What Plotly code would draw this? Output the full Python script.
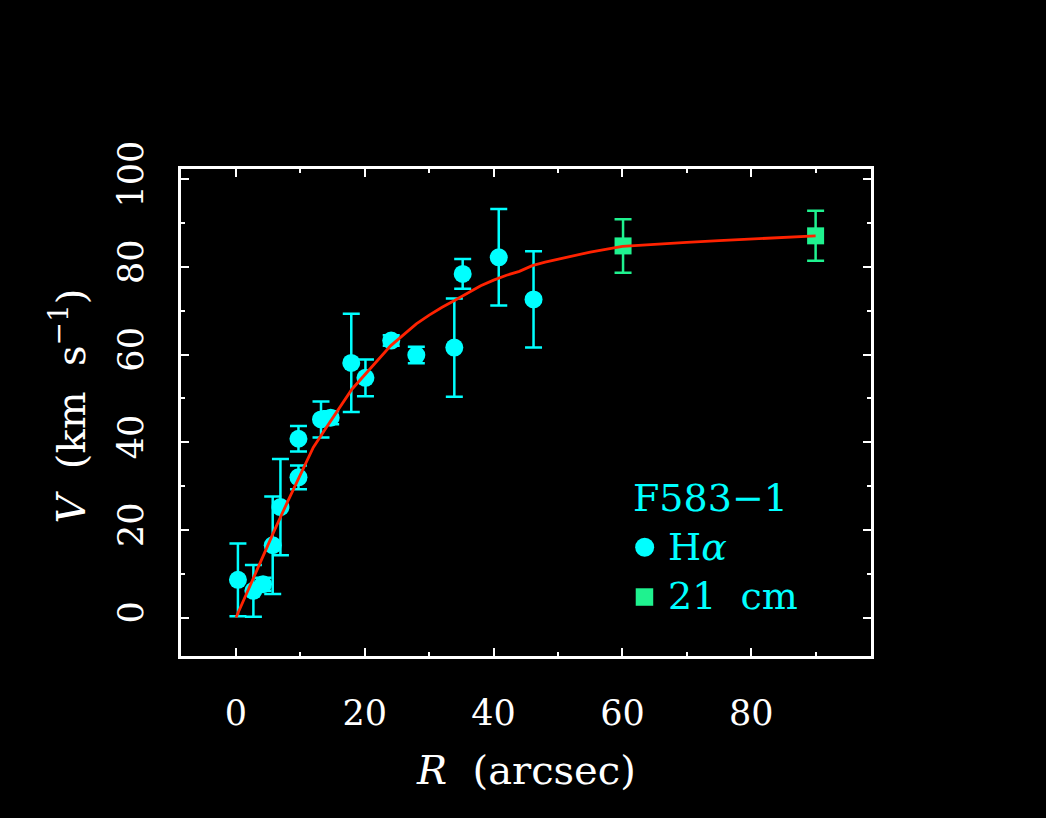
import plotly.graph_objects as go

# H-alpha rotation curve points (arcsec, km/s, 1-sigma error)
r_halpha = [0.3, 2.7, 4.2, 5.7, 6.9, 9.7, 9.7, 13.2, 14.7, 17.9, 20.1, 24.1, 28.0, 33.9, 35.2, 40.8, 46.2]
v_halpha = [8.6, 6.1, 7.6, 16.5, 25.2, 32.0, 40.8, 45.2, 45.6, 58.1, 54.7, 63.2, 59.9, 61.6, 78.4, 82.2, 72.6]
e_halpha = [8.3, 5.9, 1.5, 11.1, 11.0, 2.7, 2.9, 4.1, 1.5, 11.2, 4.2, 1.2, 1.9, 11.2, 3.4, 11.0, 11.0]

# 21 cm HI points
r_hi = [60.1, 90.0]
v_hi = [84.8, 87.1]
e_hi = [6.1, 5.7]

# Fitted rotation curve
r_fit = [0, 2, 4, 6, 8, 10, 12, 14, 16, 18, 20, 22, 24, 26, 28, 30, 32, 34, 36, 38,
         40, 42, 44, 46, 48, 50, 55, 60, 65, 70, 75, 80, 85, 90]
v_fit = [0, 6.8, 13.6, 20.0, 26.4, 32.8, 38.8, 43.3, 47.6, 52.1, 55.4, 58.8, 62.0, 64.5,
         67.0, 69.0, 70.8, 72.4, 74.1, 75.7, 77.0, 78.1, 79.0, 80.3, 81.1, 81.8, 83.4,
         84.7, 85.2, 85.6, 86.0, 86.4, 86.8, 87.1]

x_ticks = [0, 20, 40, 60, 80]
y_ticks = [0, 20, 40, 60, 80, 100]

CYAN = "#00FFFF"
GREEN = "#1FF28F"
RED = "#FF2200"
SERIF = "DejaVu Serif"

fig = go.Figure()

fig.add_trace(go.Scatter(
    x=r_halpha, y=v_halpha, mode="markers",
    marker=dict(symbol="circle", size=18, color=CYAN, line=dict(width=0)),
    error_y=dict(type="data", array=e_halpha, color=CYAN, thickness=2.5, width=8.5),
    showlegend=False,
))

fig.add_trace(go.Scatter(
    x=r_hi, y=v_hi, mode="markers",
    marker=dict(symbol="square", size=17, color=GREEN, line=dict(width=0)),
    error_y=dict(type="data", array=e_hi, color=GREEN, thickness=2.5, width=8.5),
    showlegend=False,
))

fig.add_trace(go.Scatter(
    x=r_fit, y=v_fit, mode="lines",
    line=dict(color=RED, width=2.8),
    showlegend=False,
))

axis_common = dict(
    showline=True, linecolor="white", linewidth=3, mirror="allticks",
    ticks="inside", ticklen=8, tickwidth=2, tickcolor="white",
    showgrid=False, zeroline=False,
    tickfont=dict(family=SERIF, size=35, color="white"),
    minor=dict(ticks="inside", ticklen=4, tickwidth=2, tickcolor="white",
               showgrid=False, dtick=10),
)

fig.update_xaxes(range=[-8.54, 98.6], tickvals=x_ticks, ticktext=[str(v) for v in x_ticks],
                 ticklabelstandoff=24, **axis_common)
fig.update_yaxes(range=[-8.77, 102.35], tickvals=y_ticks, ticktext=[str(v) for v in y_ticks],
                 tickangle=-90, ticklabelstandoff=21, **axis_common)

annotations = [
    dict(text="<i>R</i>  (arcsec)", xref="paper", yref="paper", x=0.5, y=0,
         xanchor="center", yanchor="middle", yshift=-114, showarrow=False,
         font=dict(family=SERIF, size=40, color="white")),
    dict(text="<i>V</i>  (km  s<sup>\u22121</sup>)", xref="paper", yref="paper", x=0, y=0.5,
         xanchor="center", yanchor="middle", xshift=-113, yshift=6, textangle=-90,
         showarrow=False, font=dict(family=SERIF, size=40, color="white")),
    dict(text="F583\u22121", xref="paper", yref="paper", x=0.6522, y=0.3244,
         xanchor="left", yanchor="middle", showarrow=False,
         font=dict(family=SERIF, size=38, color=CYAN)),
    dict(text="H<i>\u03b1</i>", xref="paper", yref="paper", x=0.7029, y=0.2238,
         xanchor="left", yanchor="middle", showarrow=False,
         font=dict(family=SERIF, size=38, color=CYAN)),
    dict(text="21  cm", xref="paper", yref="paper", x=0.7029, y=0.1232,
         xanchor="left", yanchor="middle", showarrow=False,
         font=dict(family=SERIF, size=38, color=CYAN)),
]

shapes = [
    dict(type="circle", xref="paper", yref="paper",
         x0=0.672 - 0.01377, x1=0.672 + 0.01377, y0=0.2232 - 0.0195, y1=0.2232 + 0.0195,
         fillcolor=CYAN, line=dict(width=0)),
    dict(type="rect", xref="paper", yref="paper",
         x0=0.6717 - 0.01268, x1=0.6717 + 0.01268, y0=0.1211 - 0.01797, y1=0.1211 + 0.01797,
         fillcolor=GREEN, line=dict(width=0)),
]

fig.update_layout(
    width=1046, height=818,
    margin=dict(l=181, r=175, t=169, b=162),
    paper_bgcolor="black", plot_bgcolor="black",
    annotations=annotations, shapes=shapes,
)

fig.write_html("out.html")
